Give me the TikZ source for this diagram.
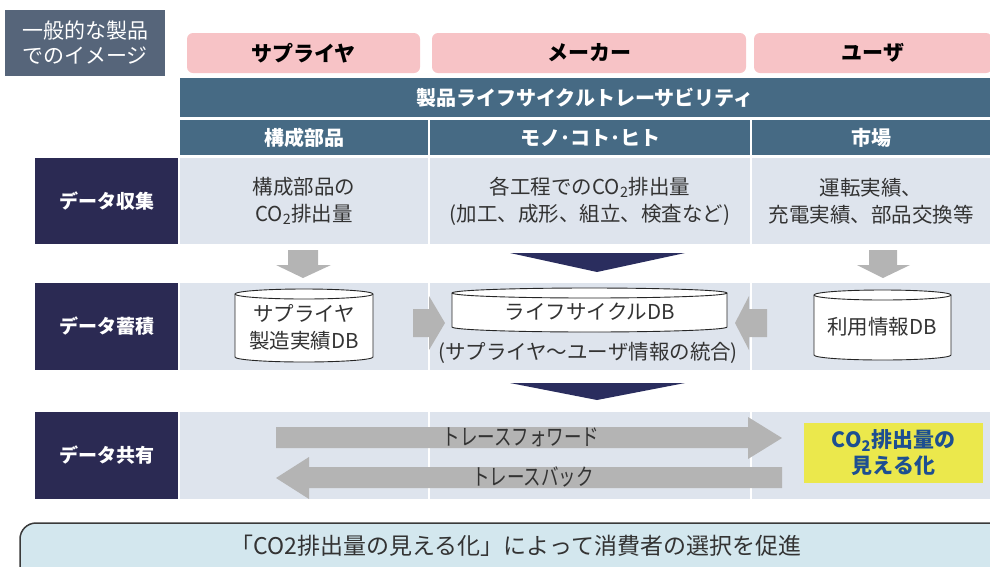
\documentclass[tikz,border=0pt]{standalone}
\usepackage{fontspec}
\setmainfont{Noto Sans CJK JP}
\newfontfamily\jpc{Noto Sans CJK JP}[FakeStretch=0.76]
\definecolor{cTL}{HTML}{56657A}
\definecolor{cPink}{HTML}{F7C3C6}
\definecolor{cBlue}{HTML}{466A84}
\definecolor{cNavy}{HTML}{2B2A53}
\definecolor{cCell}{HTML}{DEE4ED}
\definecolor{cGray}{HTML}{B4B4B4}
\definecolor{cChev}{HTML}{2A2D5E}
\definecolor{cYel}{HTML}{EBE84C}
\definecolor{cYelTxt}{HTML}{1D4F91}
\definecolor{cBan}{HTML}{D3E7EE}
\definecolor{cBanLine}{HTML}{3A3A3A}
\definecolor{cTxt}{HTML}{333333}
\newcommand\dbshape[4]{%
  \pgfmathsetmacro\rxx{(#3-#1)/2}%
  \draw[cylline, fill=white] (#1,#2) -- (#1,#4) arc[start angle=180,end angle=360,x radius=\rxx pt,y radius=5pt] -- (#3,#2) arc[start angle=0,end angle=180,x radius=\rxx pt,y radius=5pt] -- cycle;
  \draw[cylline] (#1,#2) arc[start angle=180,end angle=360,x radius=\rxx pt,y radius=5pt];
}
\begin{document}
\begin{tikzpicture}[x=1pt,y=1pt,
  box/.style={inner sep=0pt, outer sep=0pt, anchor=north west, align=center},
  pinkbox/.style={box, fill=cPink, rounded corners=6pt, minimum height=40pt, text=black, font=\bfseries\fontsize{21}{25}\selectfont},
  bluebox/.style={box, fill=cBlue, text=white, font=\bfseries\fontsize{20}{24}\selectfont},
  navybox/.style={box, fill=cNavy, text=white, minimum width=143pt, font=\bfseries\fontsize{19}{23}\selectfont},
  cellbox/.style={box, fill=cCell, text=cTxt, font=\fontsize{20.5}{27}\selectfont},
  dbtext/.style={inner sep=0pt, align=center, text=cTxt, font=\fontsize{20.5}{27}\selectfont},
  cylline/.style={draw=black!85, line width=0.9pt},
  grayarrow/.style={fill=cGray},
  chevron/.style={fill=cChev},
  tracetext/.style={inner sep=0pt, text=cTxt, font=\jpc\fontsize{23}{27}\selectfont}]
\useasboundingbox (0,0) rectangle (990,-566);
\clip (0,0) rectangle (990,-566);

% top-left label
\node[box, fill=cTL, text=white, minimum width=160pt, minimum height=66pt,
  font=\fontsize{21}{25}\selectfont] (tl) at (5,-10) {一般的な製品\\でのイメージ};

% pink headers
\node[pinkbox, minimum width=233pt] (hs) at (187,-33) {サプライヤ};
\node[pinkbox, minimum width=314pt] (hm) at (432,-33) {メーカー};
\node[pinkbox, minimum width=238pt] (hu) at (754,-33) {ユーザ};

% traceability band
\node[bluebox, minimum width=810pt, minimum height=39pt] (band) at (180,-78) {製品ライフサイクルトレーサビリティ};
\node[bluebox, minimum width=248pt, minimum height=35pt] (sh1) at (180,-120) {構成部品};
\node[bluebox, minimum width=320pt, minimum height=35pt] (sh2) at (430,-120) {モノ･コト･ヒト};
\node[bluebox, minimum width=238pt, minimum height=35pt] (sh3) at (752,-120) {市場};

% row 1
\node[navybox, minimum height=86pt] (r1) at (35,-158) {データ収集};
\node[cellbox, minimum width=248pt, minimum height=86pt] (c11) at (180,-158) {構成部品の\\CO\textsubscript{2}排出量};
\node[cellbox, minimum width=320pt, minimum height=86pt] (c12) at (430,-158) {各工程でのCO\textsubscript{2}排出量\\(加工、成形、組立、検査など)};
\node[cellbox, minimum width=238pt, minimum height=86pt] (c13) at (752,-158) {運転実績、\\充電実績、部品交換等};

% row 2
\node[navybox, minimum height=87pt] (r2) at (35,-283) {データ蓄積};
\node[box, fill=cCell, minimum width=248pt, minimum height=87pt] (c21) at (180,-283) {};
\node[box, fill=cCell, minimum width=320pt, minimum height=87pt] (c22) at (430,-283) {};
\node[box, fill=cCell, minimum width=238pt, minimum height=87pt] (c23) at (752,-283) {};

% row 3
\node[navybox, minimum height=87pt] (r3) at (35,-412) {データ共有};
\node[box, fill=cCell, minimum width=248pt, minimum height=87pt] (c31) at (180,-412) {};
\node[box, fill=cCell, minimum width=320pt, minimum height=87pt] (c32) at (430,-412) {};
\node[box, fill=cCell, minimum width=238pt, minimum height=87pt] (c33) at (752,-412) {};

% down arrows (gray) and chevrons (navy)
\fill[grayarrow] (288,-250) -- (318,-250) -- (318,-265) -- (331,-265) -- (303,-278) -- (276,-265) -- (288,-265) -- cycle;
\fill[grayarrow] (869,-250) -- (897,-250) -- (897,-265) -- (910,-265) -- (883,-278) -- (857,-265) -- (869,-265) -- cycle;
\fill[chevron] (510,-253) -- (685,-253) -- (597,-272) -- cycle;
\fill[chevron] (510,-383) -- (685,-383) -- (597,-400) -- cycle;

% horizontal gray arrows in row 2
\fill[grayarrow] (413,-309) -- (429,-309) -- (429,-296) -- (445,-323) -- (429,-350) -- (429,-337) -- (413,-337) -- cycle;
\fill[grayarrow] (767,-309) -- (749,-309) -- (749,-296) -- (735,-323) -- (749,-350) -- (749,-337) -- (767,-337) -- cycle;

% databases
\dbshape{235}{-294}{373}{-357}
\dbshape{452}{-293}{727}{-327}
\dbshape{814}{-295}{951}{-355}
\node[dbtext] (db1) at (304,-327) {サプライヤ\\製造実績DB};
\node[dbtext] (db2) at (590,-312) {ライフサイクルDB};
\node[dbtext] (db2c) at (588,-353) {(サプライヤ～ユーザ情報の統合)};
\node[dbtext] (db3) at (882,-327) {利用情報DB};

% trace arrows
\fill[grayarrow] (276,-427) -- (748,-427) -- (748,-417) -- (782,-438) -- (748,-459) -- (748,-448) -- (276,-448) -- cycle;
\fill[grayarrow] (782,-467) -- (309,-467) -- (309,-457) -- (276,-478) -- (309,-499) -- (309,-488) -- (782,-488) -- cycle;
\node[tracetext] (tf) at (521,-437) {トレースフォワード};
\node[tracetext] (tb) at (533,-477) {トレースバック};

% visualisation box
\node[box, fill=cYel, text=cYelTxt, minimum width=179pt, minimum height=60pt,
  font=\bfseries\fontsize{21}{26}\selectfont] (yb) at (804,-423) {CO\textsubscript{2}排出量の\\見える化};

% bottom banner
\draw[fill=cBan, draw=cBanLine, line width=1.5pt, rounded corners=16pt] (20,-523) rectangle (1010,-610);
\node[inner sep=0pt, text=cTxt, font=\fontsize{23}{27}\selectfont] (ban) at (516,-546) {「CO2排出量の見える化」によって消費者の選択を促進};
\end{tikzpicture}
\end{document}
